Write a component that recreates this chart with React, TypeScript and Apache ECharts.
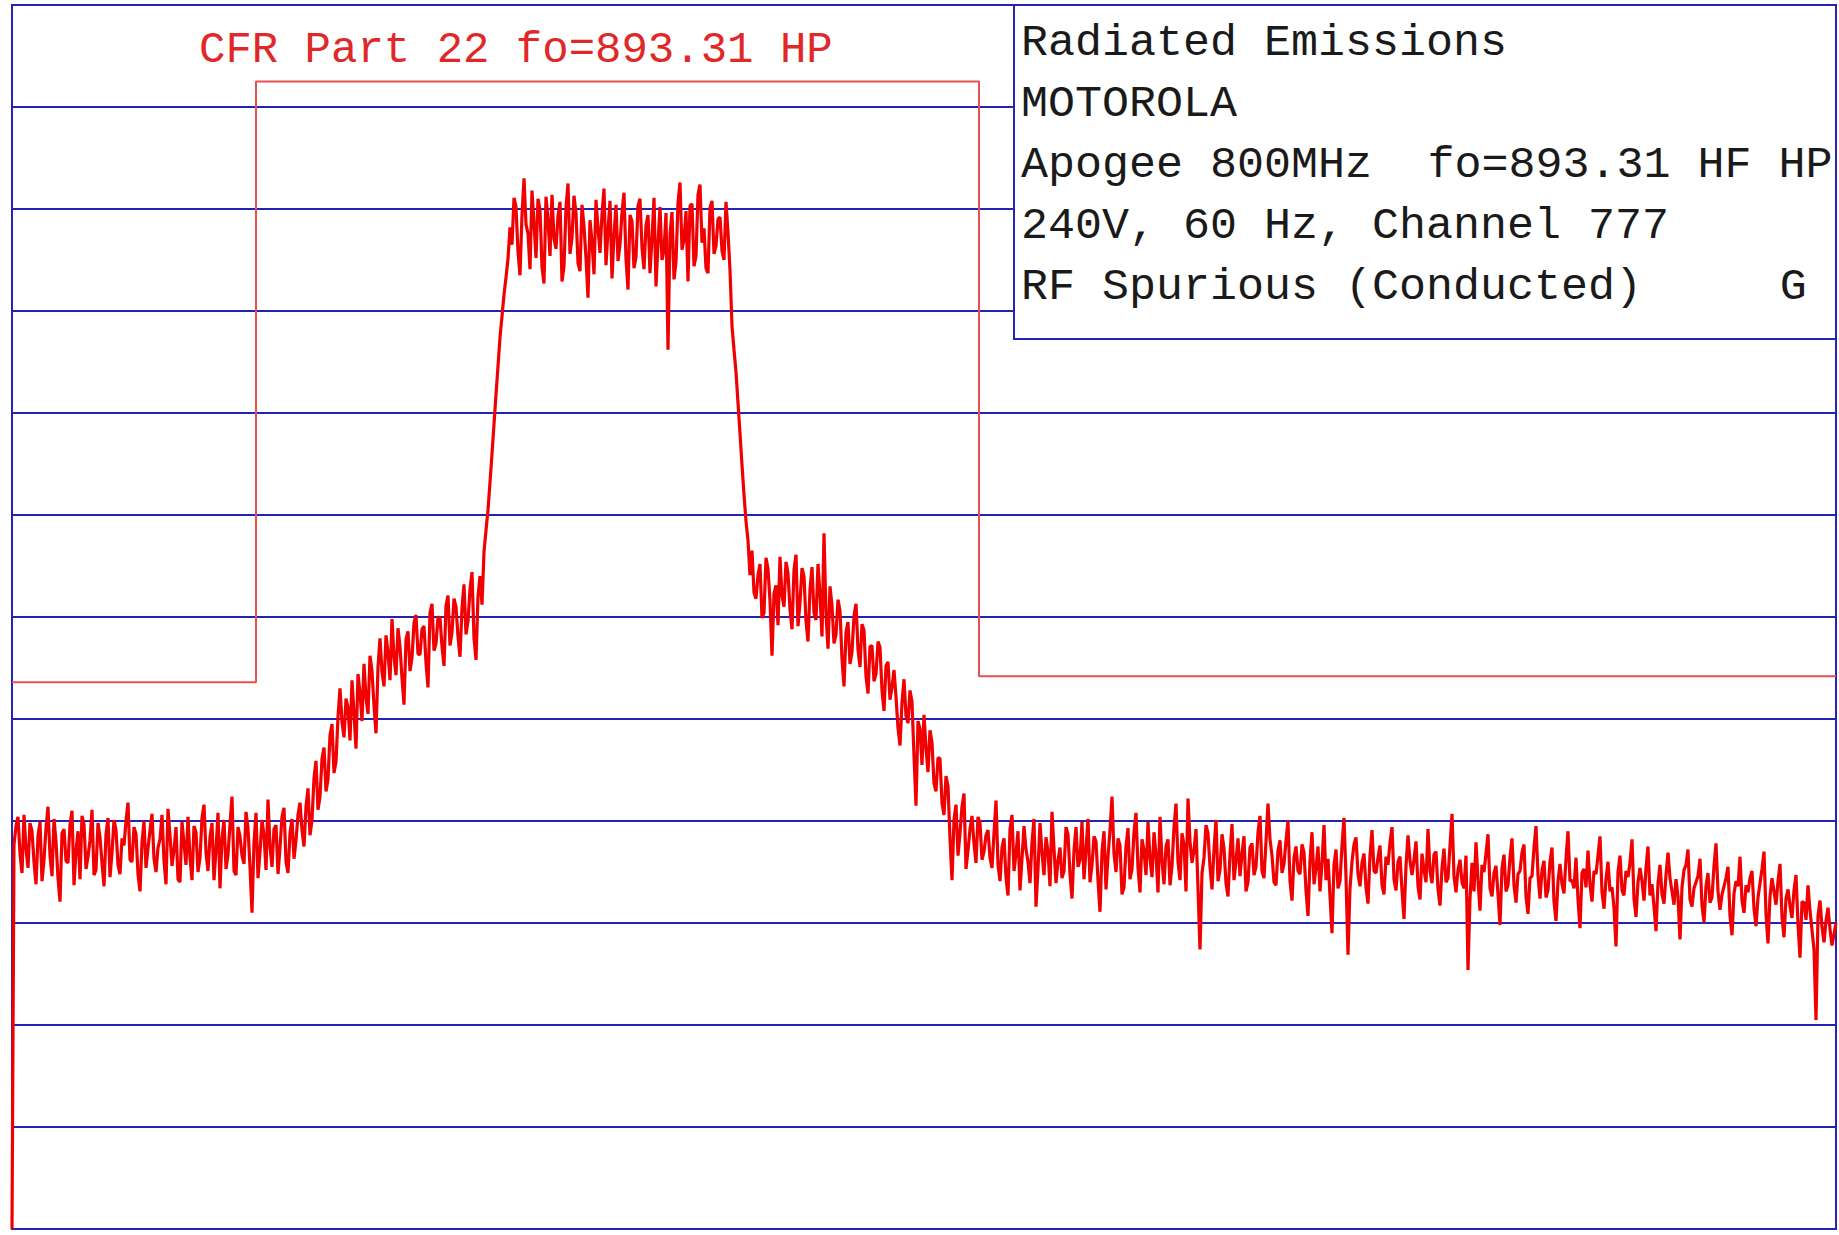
import React, { useEffect, useRef } from "react";
import * as echarts from "echarts";

// Spectrum trace (dB, 10 dB per division, top line = 0).
// Main samples one every 4 px of the 1824 px plot; "mid" samples sit half-way between them.
const leftNoise = [
  -120, -80.5, -83.2, -79.4, -84.6, -81.0, -86.2, -80.1, -83.8, -78.6,
  -85.4, -82.0, -87.9, -80.8, -84.1, -79.0, -82.9, -85.7, -80.3, -83.5,
  -78.9, -84.8, -81.6, -86.4, -79.7, -83.1, -80.9, -85.2, -82.4, -78.2,
  -84.0, -81.3, -86.9, -80.0, -82.7, -79.3, -85.0, -81.8, -83.9, -78.8,
  -84.4, -80.6, -86.0, -82.2, -79.6, -85.8, -81.1, -83.6, -78.4, -84.9,
  -80.2, -82.8, -86.6, -79.9, -83.3, -77.6, -85.3, -81.5, -84.2, -80.7,
  -89.0, -79.2, -83.0, -81.4, -77.9, -84.5, -80.4, -82.6, -78.7, -85.1,
  -79.8, -81.9,
];
const leftNoiseMid = [
  -82.3, -79.6, -85.1, -82.7, -80.2, -84.0, -81.5, -85.9, -80.7, -83.4,
  -79.8, -85.6, -81.2, -83.9, -80.4, -86.3, -81.0, -79.5, -84.7, -81.9,
  -85.3, -80.2, -84.1, -81.3, -85.5, -79.9, -84.3, -81.7, -80.0, -83.8,
  -80.6, -85.2, -82.1, -84.6, -80.9, -83.7, -82.6, -79.4, -86.2, -81.4,
  -82.8, -85.7, -80.1, -84.3, -83.6, -80.5, -85.0, -79.7, -83.1, -81.6,
  -85.8, -79.2, -81.7, -84.7, -80.3, -84.9, -80.6, -83.4, -79.1, -84.5,
  -82.1, -85.6, -79.9, -84.8, -82.5, -80.8, -85.2, -79.6, -84.0, -81.2,
  -83.7, -79.4,
];
const rampUp = [
  -78.2, -82.5, -76.8, -79.9, -74.1, -77.6, -72.8, -75.9, -70.5, -74.2,
  -67.0, -71.8, -68.9, -66.2, -72.9, -67.4, -64.6, -69.5, -65.3, -71.4,
  -62.1, -66.8, -63.5, -60.2, -65.7, -62.9, -68.6, -61.4, -64.0, -59.8,
  -63.7, -60.9, -66.9, -58.7, -62.6, -60.1, -64.8, -57.9, -61.5, -59.0,
  -63.9, -56.8, -60.4, -55.6, -64.2, -56.0, -53.6,
];
const rampUpMid = [
  -80.9, -78.6, -81.4, -75.8, -78.9, -73.9, -77.1, -71.6, -75.3, -69.8,
  -70.3, -68.0, -72.1, -69.4, -65.6, -70.2, -67.9, -63.8, -68.7, -64.9,
  -65.4, -61.8, -66.2, -63.9, -61.1, -66.0, -62.2, -65.3, -60.6, -63.6,
  -61.2, -64.5, -59.6, -63.3, -60.0, -62.9, -58.9, -62.8, -58.2, -61.9,
  -59.1, -61.7, -57.3, -62.1, -58.0, -58.8, -51.5,
];
const steepRise = [-49.5, -44.0, -38.2, -32.6, -28.4, -24.9];
const steepRiseMid = [-46.8, -41.1, -35.4, -30.5, -26.7, -21.8];
const plateau = [
  -23.5, -19.8, -26.5, -17.0, -22.4, -18.2, -24.8, -20.1, -27.3, -21.0,
  -18.6, -23.9, -19.3, -25.6, -17.5, -22.8, -20.4, -26.1, -21.7, -28.7,
  -23.2, -19.1, -24.3, -18.0, -22.1, -26.8, -19.6, -23.5, -18.4, -27.9,
  -21.2, -24.7, -19.0, -25.9, -20.6, -22.9, -27.6, -19.8, -24.1, -33.8,
  -20.3, -25.2, -17.4, -23.0, -27.1, -19.5, -24.6, -17.6, -21.9, -26.3,
  -19.2, -23.6, -20.8, -25.0, -22.3,
];
const plateauMid = [
  -18.9, -24.2, -20.6, -21.5, -25.9, -21.4, -19.0, -25.7, -18.8, -24.6,
  -22.9, -20.7, -27.1, -19.9, -24.4, -18.7, -25.3, -19.6, -24.8, -21.1,
  -26.4, -21.8, -20.5, -25.5, -19.2, -22.6, -25.1, -20.3, -24.9, -20.6,
  -25.8, -19.7, -23.8, -21.6, -26.3, -18.9, -23.4, -25.0, -20.4, -22.5,
  -26.9, -19.4, -24.0, -20.2, -19.7, -25.6, -18.6, -23.3, -25.8, -19.9,
  -24.4, -21.0, -24.1, -19.3, -26.0,
];
const fallEdge = [-31.5, -36.0, -42.0, -48.0, -52.5];
const fallEdgeMid = [-33.8, -39.0, -45.1, -50.6, -55.9];
const shoulder = [
  -53.5, -58.2, -54.8, -59.6, -55.3, -63.8, -56.9, -54.1, -59.0, -55.7,
  -61.2, -53.9, -58.6, -56.0, -62.4, -55.1, -60.3, -57.8, -51.8, -63.1,
  -58.9, -61.7, -59.4, -66.8, -60.5, -63.4, -58.7, -64.9, -61.3, -67.5,
  -62.8, -65.6, -63.0, -69.2, -64.4, -66.9, -67.8, -72.6, -66.1, -70.4,
  -68.3, -78.5, -71.0, -69.6, -75.2, -72.3, -77.1, -73.9, -79.4, -76.6,
  -85.8, -78.4, -81.2, -77.3, -82.9, -79.5, -84.1, -80.2, -83.0,
];
const shoulderMid = [
  -57.6, -55.9, -60.1, -54.2, -58.4, -57.7, -60.8, -57.9, -54.6, -59.3,
  -55.4, -60.9, -55.2, -60.4, -57.3, -59.6, -54.8, -61.9, -59.7, -57.0,
  -62.6, -58.3, -64.1, -61.5, -64.6, -59.9, -63.2, -60.7, -65.8, -62.9,
  -66.3, -62.4, -67.2, -64.8, -68.1, -65.2, -70.9, -68.4, -69.7, -67.2,
  -73.6, -70.2, -74.5, -72.8, -71.1, -76.3, -73.8, -78.2, -75.6, -81.7,
  -79.9, -83.4, -78.6, -84.7, -80.8, -82.2, -79.6, -83.8, -81.4,
];
const tail = [
  -80.9, -84.6, -78.0, -85.9, -81.7, -87.3, -79.4, -83.2, -86.8, -80.5,
  -84.0, -82.1, -88.4, -80.2, -85.3, -83.0, -79.1, -86.1, -82.6, -84.9,
  -81.3, -87.6, -80.6, -83.8, -85.7, -79.8, -84.3, -82.0, -88.9, -81.0,
  -83.5, -77.6, -85.0, -82.4, -86.5, -80.7, -84.7, -79.2, -87.0, -82.9,
  -80.1, -85.5, -83.3, -79.6, -86.2, -81.8, -84.4, -78.3, -85.8, -82.3,
  -77.8, -84.1, -80.8, -92.6, -83.6, -81.2, -86.7, -79.9, -84.8, -82.7,
  -87.4, -80.3, -83.9, -85.4, -81.5, -86.0, -82.2, -84.5, -79.5, -85.6,
  -78.3, -83.4, -86.3, -81.9, -84.2, -80.0, -87.8, -82.5, -85.2, -83.1,
  -89.3, -81.1, -84.6, -86.9, -80.4, -83.7, -91.0, -82.8, -85.9, -79.7,
  -93.1, -84.0, -81.6, -86.4, -83.2, -88.1, -80.9, -85.1, -82.4, -87.2,
  -84.3, -80.6, -86.8, -83.5, -89.6, -81.4, -85.3, -82.0, -87.7, -84.8,
  -80.8, -86.1, -83.0, -88.3, -82.7, -85.6, -79.3, -87.0, -83.8, -86.6,
  -94.6, -84.1, -82.1, -88.8, -85.0, -81.3, -87.4, -84.4, -90.2, -83.3,
  -86.3, -81.7, -88.0, -84.9, -82.3, -89.1, -85.4, -80.5, -87.6, -83.9,
  -86.8, -82.6, -89.8, -84.2, -87.1, -81.0, -85.8, -83.6, -90.5, -84.7,
  -82.9, -87.9, -85.2, -81.5, -88.6, -84.0, -86.5, -92.3, -83.4, -87.3,
  -85.5, -81.8, -89.4, -84.6, -87.8, -82.5, -86.2, -90.8, -84.3, -88.1,
  -83.1, -86.9, -85.7, -91.6, -84.8, -82.8, -88.4, -86.0, -83.7, -89.9,
  -85.1, -87.5, -82.2, -88.7, -86.4, -84.5, -91.2, -85.9, -83.5, -89.0,
  -87.0, -84.9, -90.3, -86.1, -83.0, -92.0, -85.6, -88.2, -84.2, -91.4,
  -86.7, -89.5, -85.3, -93.4, -88.0, -86.3, -90.7, -99.5, -87.8, -91.9,
  -88.5, -92.2, -90.0,
];
const tailMid = [
  -83.6, -81.2, -84.3, -82.6, -85.5, -80.8, -84.9, -81.0, -83.7, -82.8,
  -86.1, -79.8, -84.7, -83.1, -81.6, -86.4, -82.7, -83.9, -85.6, -80.6,
  -85.2, -82.9, -84.5, -80.1, -82.8, -86.0, -81.5, -85.8, -83.0, -86.7,
  -80.9, -83.2, -81.7, -87.2, -82.5, -85.7, -81.1, -84.6, -81.8, -85.3,
  -83.7, -81.1, -87.0, -83.9, -82.5, -86.3, -80.6, -84.0, -81.2, -86.9,
  -82.0, -82.9, -86.6, -85.1, -80.4, -84.5, -82.8, -85.9, -81.3, -86.1,
  -83.3, -85.8, -81.7, -83.2, -86.9, -82.6, -85.3, -81.1, -84.9, -82.0,
  -81.8, -86.0, -82.9, -85.1, -81.9, -85.9, -83.6, -84.9, -82.3, -86.8,
  -83.9, -86.2, -82.5, -84.1, -85.8, -87.4, -84.3, -86.6, -82.4, -85.5,
  -86.6, -82.3, -85.2, -84.1, -86.5, -83.4, -84.9, -83.6, -86.3, -83.5,
  -82.1, -85.7, -84.0, -86.8, -84.4, -83.9, -83.8, -86.4, -83.2, -86.0,
  -84.9, -83.3, -86.7, -84.6, -86.0, -82.4, -85.4, -84.8, -86.0, -83.4,
  -87.6, -86.9, -85.8, -84.3, -83.2, -86.6, -85.1, -87.2, -84.6, -86.9,
  -83.6, -86.3, -85.2, -83.1, -87.4, -85.6, -82.6, -85.3, -84.8, -87.5,
  -84.0, -87.9, -85.9, -86.2, -83.7, -85.9, -86.6, -87.7, -85.1, -86.5,
  -86.2, -84.9, -83.4, -87.0, -85.7, -86.9, -88.5, -85.0, -86.8, -84.9,
  -84.1, -87.6, -86.0, -85.9, -84.6, -87.3, -88.4, -86.1, -87.2, -85.3,
  -85.6, -88.2, -87.4, -86.5, -84.3, -87.7, -86.6, -85.4, -88.3, -86.4,
  -88.0, -84.4, -86.9, -87.2, -85.6, -89.3, -87.1, -86.4, -87.8, -86.3,
  -85.6, -88.6, -87.5, -84.7, -89.1, -87.4, -86.9, -85.9, -89.4, -87.6,
  -88.3, -86.8, -90.1, -87.9, -89.7, -88.8, -92.6, -89.3, -90.4, -89.8,
  -90.6, -91.1,
];

// CFR Part 22 limit mask (sample index, dB)
const limitX = [0, 61, 61, 241.75, 241.75, 456];
const limitY = [-66.4, -66.4, -7.5, -7.5, -65.8, -65.8];

const Y_MIN = -120;
const Y_MAX = 0;
const Y_STEP = 10;

const titleText = "CFR Part 22 fo=893.31 HP";
const legendLines = [
  "Radiated Emissions",
  "MOTOROLA",
  "Apogee 800MHz",
  "240V, 60 Hz, Channel 777",
  "RF Spurious (Conducted)",
];
const legendExtra = ["", "", "fo=893.31 HF HP", "", "G"];
const legendExtraCol = [0, 0, 15, 0, 28];

const BLUE = "#2424b4";
const FONT = '"Liberation Mono", "DejaVu Sans Mono", monospace';

export default function App() {
  const ref = useRef<HTMLDivElement>(null);

  useEffect(() => {
    if (!ref.current) return;
    const chart = echarts.init(ref.current, undefined, { renderer: "svg" });

    const segments: [number[], number[]][] = [
      [leftNoise, leftNoiseMid],
      [rampUp, rampUpMid],
      [steepRise, steepRiseMid],
      [plateau, plateauMid],
      [fallEdge, fallEdgeMid],
      [shoulder, shoulderMid],
      [tail, tailMid],
    ];
    const total = segments.reduce((s, seg) => s + seg[0].length, 0);
    const xMax = total - 1;
    const trace: number[][] = [];
    let idx = 0;
    segments.forEach(([vals, mids]) => {
      vals.forEach((v, k) => {
        trace.push([idx, v]);
        if (idx < xMax && mids[k] !== undefined) trace.push([idx + 0.5, mids[k]]);
        idx++;
      });
    });
    const limit = limitX.map((x, i) => [x, limitY[i]]);

    const plotLeft = 12;
    const plotTop = 5;
    const plotW = 1824;
    const plotH = 1224;

    const charW = 27.1;
    const textX = 1021;
    const lineY0 = 43;
    const lineGap = 61;

    const graphics: any[] = [
      {
        type: "rect",
        z: 100,
        shape: { x: 1014, y: plotTop, width: plotLeft + plotW - 1014, height: 334 },
        style: { fill: "#ffffff", stroke: BLUE, lineWidth: 2 },
      },
      {
        type: "text",
        z: 101,
        x: 199,
        y: 50,
        style: {
          text: titleText,
          fill: "#e02828",
          font: `44px ${FONT}`,
          textAlign: "left",
          textVerticalAlign: "middle",
        },
      },
    ];
    legendLines.forEach((t, i) => {
      graphics.push({
        type: "text",
        z: 101,
        x: textX,
        y: lineY0 + i * lineGap,
        style: {
          text: t,
          fill: "#1a1a1a",
          font: `45px ${FONT}`,
          textAlign: "left",
          textVerticalAlign: "middle",
        },
      });
      if (legendExtra[i]) {
        graphics.push({
          type: "text",
          z: 101,
          x: textX + legendExtraCol[i] * charW,
          y: lineY0 + i * lineGap,
          style: {
            text: legendExtra[i],
            fill: "#1a1a1a",
            font: `45px ${FONT}`,
            textAlign: "left",
            textVerticalAlign: "middle",
          },
        });
      }
    });

    chart.setOption({
      animation: false,
      backgroundColor: "#ffffff",
      grid: {
        left: plotLeft,
        top: plotTop,
        width: plotW,
        height: plotH,
        show: true,
        borderColor: BLUE,
        borderWidth: 2,
        backgroundColor: "transparent",
      },
      xAxis: {
        type: "value",
        min: 0,
        max: xMax,
        axisLine: { show: false },
        axisTick: { show: false },
        axisLabel: { show: false },
        splitLine: { show: false },
      },
      yAxis: {
        type: "value",
        min: Y_MIN,
        max: Y_MAX,
        interval: Y_STEP,
        axisLine: { show: false },
        axisTick: { show: false },
        axisLabel: { show: false },
        splitLine: { show: true, lineStyle: { color: BLUE, width: 2 } },
      },
      series: [
        {
          type: "line",
          name: "limit",
          data: limit,
          symbol: "none",
          lineStyle: { color: "#e85050", width: 2 },
          z: 3,
        },
        {
          type: "line",
          name: "trace",
          data: trace,
          symbol: "none",
          lineStyle: { color: "#f00000", width: 3.2 },
          z: 4,
        },
      ],
      graphic: graphics,
    });

    return () => chart.dispose();
  }, []);

  return (
    <div
      ref={ref}
      style={{
        position: "absolute",
        left: 0,
        top: 0,
        width: 1839,
        height: 1235,
        background: "#ffffff",
      }}
    />
  );
}
